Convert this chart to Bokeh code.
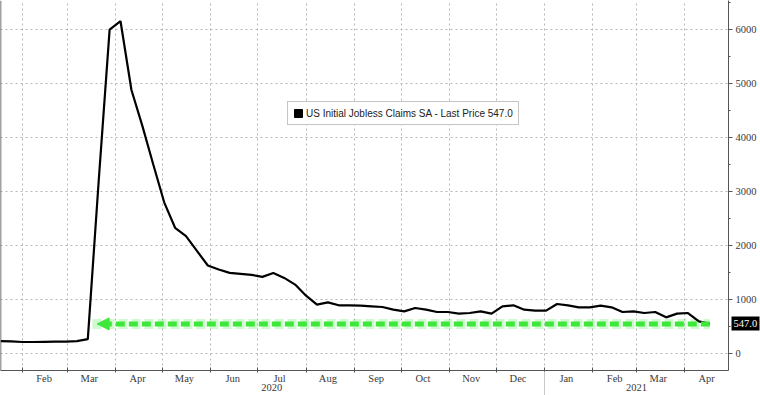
import datetime as dt
from bokeh.plotting import figure
from bokeh.models import (Legend, LegendItem, Arrow, NormalHead, FixedTicker,
                          SingleIntervalTicker, Span, Range1d, LinearAxis)
from bokeh.embed import file_html
from bokeh.resources import INLINE

# ---- data -------------------------------------------------------------
first_week = "2020-01-18"          # week-ending date of the first value
claims = [230, 222, 212, 212, 215, 218, 220, 228, 265, 3200,
          6000, 6155, 4880, 4217, 3500, 2800, 2328, 2173, 1900, 1629,
          1555, 1492, 1475, 1455, 1418, 1492, 1400, 1276, 1070, 904,
          947, 892, 892, 885, 873, 860, 811, 780, 842, 811,
          768, 768, 737, 749, 780, 737, 873, 892, 811, 793,
          793, 916, 892, 855, 855, 886, 855, 768, 780, 749,
          768, 669, 737, 749, 594, 547]
last_price = 547.0
arrow_from = "2020-03-17"
month_names = ["Feb", "Mar", "Apr", "May", "Jun", "Jul", "Aug", "Sep", "Oct",
               "Nov", "Dec", "Jan", "Feb", "Mar", "Apr"]
month_years = [2020] * 11 + [2021] * 4
month_nums = [2, 3, 4, 5, 6, 7, 8, 9, 10, 11, 12, 1, 2, 3, 4]
years = ["2020", "2021"]
legend_label = "US Initial Jobless Claims SA - Last Price 547.0"

# ---- convert dates to day numbers (days since 2020-01-01) -------------
base = dt.date(2020, 1, 1)
def day(d):
    if isinstance(d, str):
        d = dt.date.fromisoformat(d)
    return (d - base).days

d0 = day(first_week)
days = [d0 + 7 * i for i in range(len(claims))]
month_starts = [day(dt.date(y, m, 1)) for y, m in zip(month_years, month_nums)]
mid_months = [day(dt.date(y, m, 15)) for y, m in zip(month_years, month_nums)]

x_start, x_end = d0, d0 + 467
year_break = day(dt.date(2021, 1, 1))
year_centers = [(x_start + year_break) // 2, (year_break + x_end) // 2]

FONT = "Liberation Sans Narrow"
GREEN = "#3ee83a"
TXT = "#3a3a3a"

p = figure(width=760, height=395, output_backend="svg", toolbar_location=None,
           x_range=Range1d(x_start, x_end), y_range=Range1d(-316, 6539),
           y_axis_location="right", min_border_left=0, min_border_top=0,
           min_border_right=32, min_border_bottom=25,
           background_fill_color="white", border_fill_color="white",
           outline_line_color=None)

# grids
p.xgrid.ticker = FixedTicker(ticks=month_starts)
for g in (p.xgrid, p.ygrid):
    g.grid_line_color = "#b5b5b5"
    g.grid_line_dash = "2 3"
    g.grid_line_width = 1

# x axis: month names centred mid-month, year names on a second line,
# small ticks at month starts
labels = {m: n for m, n in zip(mid_months, month_names)}
labels.update({c: "\n" + t for c, t in zip(year_centers, years)})
xa = p.xaxis[0]
xa.ticker = FixedTicker(ticks=sorted(labels), minor_ticks=month_starts)
xa.major_label_overrides = labels
xa.major_tick_in = 0
xa.major_tick_out = 0
xa.minor_tick_in = 3
xa.minor_tick_out = 2
xa.minor_tick_line_color = "#555555"
xa.axis_line_color = "#555555"
xa.major_label_standoff = 0
xa.major_label_text_font = FONT
xa.major_label_text_font_size = "10.5px"
xa.major_label_text_line_height = 0.85
xa.major_label_text_color = TXT

# zero-size axis at the bottom edge: a light separator between the years
sep_axis = LinearAxis(ticker=FixedTicker(ticks=[], minor_ticks=[year_break]),
                      axis_line_color=None, major_tick_in=0, major_tick_out=0,
                      minor_tick_in=24, minor_tick_out=0,
                      minor_tick_line_color="#c8c8c8", major_label_standoff=0,
                      major_label_text_font_size="0px")
p.add_layout(sep_axis, "below")

# y axis on the right
ya = p.yaxis[0]
ya.ticker = SingleIntervalTicker(interval=1000, num_minor_ticks=2)
ya.major_tick_in = 0
ya.major_tick_out = 4
ya.minor_tick_in = 0
ya.minor_tick_out = 2
ya.axis_line_color = "#555555"
ya.major_tick_line_color = "#555555"
ya.minor_tick_line_color = "#555555"
ya.major_label_standoff = 3
ya.major_label_text_font = FONT
ya.major_label_text_font_size = "10.5px"
ya.major_label_text_color = TXT

# last-price tag: an extra right axis whose single tick is drawn as a black bar
tag_axis = LinearAxis(ticker=FixedTicker(ticks=[last_price]),
                      major_label_overrides={last_price: f"{last_price:.1f}"},
                      axis_line_color=None, major_tick_in=28, major_tick_out=0,
                      major_tick_line_color="black", major_tick_line_width=14,
                      major_tick_line_cap="butt",
                      minor_tick_in=0, minor_tick_out=0,
                      major_label_standoff=-26, major_label_text_font=FONT,
                      major_label_text_font_size="10.5px",
                      major_label_text_color="white")
p.add_layout(tag_axis, "right")

p.add_layout(Span(location=x_start, dimension="height", line_color="#444444", line_width=1.5))

# green dashed arrow at last price
p.line(x=[day(arrow_from), days[-1]], y=[last_price, last_price],
       line_color=GREEN, line_alpha=0.25, line_width=10, line_dash="9 4")
p.add_layout(Arrow(x_start=days[-1], y_start=last_price,
                   x_end=day(arrow_from) + 3, y_end=last_price,
                   line_color=GREEN, line_width=5, line_dash="9 4",
                   end=NormalHead(size=12, fill_color=GREEN, line_color=GREEN)))

# main series
p.line(x=days, y=claims, line_color="black", line_width=2.2)

# legend (square swatch from a hidden one-point renderer)
swatch = p.quad(left=days[-1:], right=days[-1:], top=claims[-1:], bottom=claims[-1:],
                fill_color="black", line_color="black", visible=False)
legend = Legend(items=[LegendItem(label=legend_label, renderers=[swatch])],
                location=(287, 245), orientation="vertical",
                label_text_font="Liberation Sans", label_text_font_size="10px",
                label_text_color="#222222", glyph_width=10, glyph_height=10,
                label_height=12, label_standoff=3, padding=5, margin=0, spacing=0,
                border_line_color="#8a8a8a", border_line_width=1,
                background_fill_color="white", background_fill_alpha=1)
p.add_layout(legend)

open("out.html", "w").write(file_html(p, INLINE))
